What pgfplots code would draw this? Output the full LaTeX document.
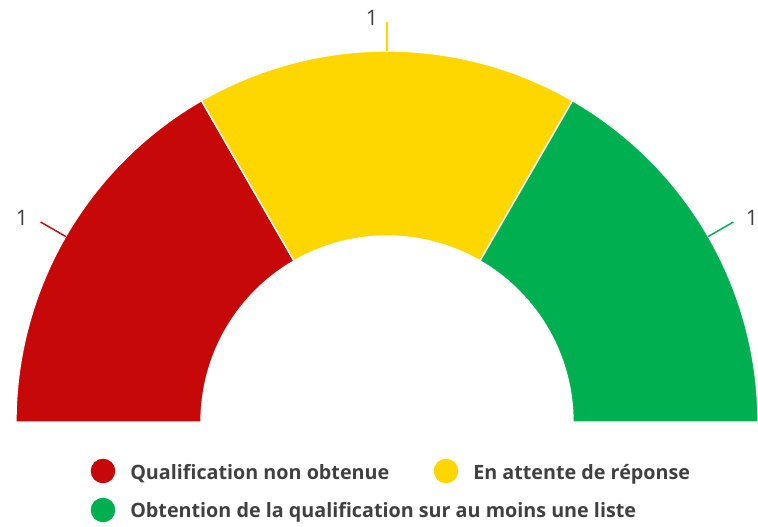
\documentclass[border=0pt]{standalone}
\usepackage{pgfplots}
\pgfplotsset{compat=1.18}
\usepackage{pgfplotstable}
\usepackage{fontspec}
\setmainfont{Open Sans}
\definecolor{cred}{RGB}{199,8,8}
\definecolor{cyellow}{RGB}{255,215,0}
\definecolor{cgreen}{RGB}{0,176,80}
\definecolor{ctext}{RGB}{64,64,64}
\pgfplotstableread{
id value
1 1
2 1
3 1
}\datatable
\def\Ro{278.25pt}
\def\Ri{139.5pt}
\def\Rl{300pt}
\begin{document}%
\begin{tikzpicture}
\pgfplotstablegetelem{0}{value}\of\datatable \global\let\va\pgfplotsretval
\pgfplotstablegetelem{1}{value}\of\datatable \global\let\vb\pgfplotsretval
\pgfplotstablegetelem{2}{value}\of\datatable \global\let\vc\pgfplotsretval
\pgfmathsetmacro\tot{\va+\vb+\vc}
\pgfmathsetmacro\aA{180}
\pgfmathsetmacro\aB{180-180*\va/\tot}
\pgfmathsetmacro\aC{\aB-180*\vb/\tot}
\pgfmathsetmacro\aD{\aC-180*\vc/\tot}
\pgfmathsetmacro\mA{(\aA+\aB)/2}
\pgfmathsetmacro\mB{(\aB+\aC)/2}
\pgfmathsetmacro\mC{(\aC+\aD)/2}
\begin{axis}[
  width=568.5pt, height=395.25pt, scale only axis,
  xmin=0, xmax=758, ymin=0, ymax=527,
  hide axis, clip=false,
]
\coordinate (ll) at (rel axis cs:0,0);
\coordinate (ur) at (rel axis cs:1,1);
\begin{scope}[shift={(axis cs:387,105)}]
  \filldraw[fill=cred, draw=white, line width=1pt] (\aA:\Ro) arc[start angle=\aA, end angle=\aB, radius=\Ro] -- (\aB:\Ri) arc[start angle=\aB, end angle=\aA, radius=\Ri] -- cycle;
  \filldraw[fill=cyellow, draw=white, line width=1pt] (\aB:\Ro) arc[start angle=\aB, end angle=\aC, radius=\Ro] -- (\aC:\Ri) arc[start angle=\aC, end angle=\aB, radius=\Ri] -- cycle;
  \filldraw[fill=cgreen, draw=white, line width=1pt] (\aC:\Ro) arc[start angle=\aC, end angle=\aD, radius=\Ro] -- (\aD:\Ri) arc[start angle=\aD, end angle=\aC, radius=\Ri] -- cycle;
  \draw[cred, line width=1.1pt] (\mA:\Ro) -- (\mA:\Rl);
  \draw[cyellow, line width=1.1pt] (\mB:\Ro) -- (\mB:\Rl);
  \draw[cgreen, line width=1.1pt] (\mC:\Ro) -- (\mC:\Rl);
\end{scope}
\node[text=ctext, font=\fontsize{16}{18}\selectfont] at (axis cs:22,309) {\va};
\node[text=ctext, font=\fontsize{16}{18}\selectfont] at (axis cs:372,509) {\vb};
\node[text=ctext, font=\fontsize{16}{18}\selectfont] at (axis cs:752,309) {\vc};
% legend
\fill[cred] (axis cs:103,56) circle[radius=9.2pt];
\fill[cyellow] (axis cs:446,56) circle[radius=9.2pt];
\fill[cgreen] (axis cs:103,17) circle[radius=9.2pt];
\node[anchor=base west, inner sep=0pt, text=ctext, font=\fontsize{14.8}{17}\selectfont\bfseries] at (axis cs:130,47) {Qualification non obtenue};
\node[anchor=base west, inner sep=0pt, text=ctext, font=\fontsize{14.8}{17}\selectfont\bfseries] at (axis cs:473,47) {En attente de réponse};
\node[anchor=base west, inner sep=0pt, text=ctext, font=\fontsize{14.8}{17}\selectfont\bfseries] at (axis cs:130,9) {Obtention de la qualification sur au moins une liste};
\end{axis}
\pgfresetboundingbox
\path (ll) rectangle (ur);
\end{tikzpicture}%
\end{document}
